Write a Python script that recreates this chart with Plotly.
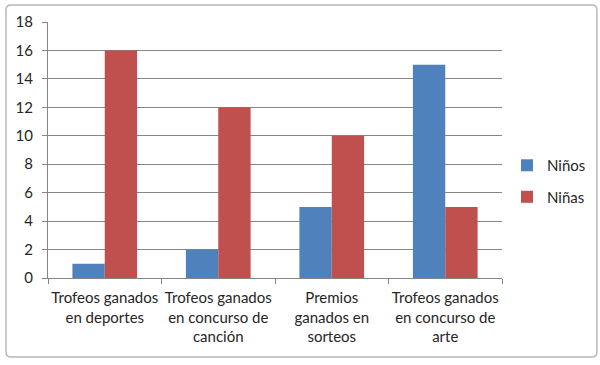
import plotly.graph_objects as go

categories = ["Trofeos ganados<br>en deportes", "Trofeos ganados<br>en concurso de<br>canción",
              "Premios<br>ganados en<br>sorteos", "Trofeos ganados<br>en concurso de<br>arte"]
ninos = [1, 2, 5, 15]
ninas = [16, 12, 10, 5]
y_ticks = [0, 2, 4, 6, 8, 10, 12, 14, 16, 18]

FONT = "Lato, Open Sans, Liberation Sans, sans-serif"

fig = go.Figure()
fig.add_bar(name="Niños", x=categories, y=ninos, legendgroup="a",
            marker=dict(color="#4F81BD", line_width=0))
fig.add_bar(name="Niñas", x=categories, y=ninas, legendgroup="b",
            marker=dict(color="#C0504D", line_width=0))

# rounded chart frame (paper coords)
x0, x1, y0, y1 = -0.0925, 1.209, -0.309, 1.066
rx, ry = 0.011, 0.0195
frame = (f"M {x0+rx},{y1} L {x1-rx},{y1} Q {x1},{y1} {x1},{y1-ry} "
         f"L {x1},{y0+ry} Q {x1},{y0} {x1-rx},{y0} "
         f"L {x0+rx},{y0} Q {x0},{y0} {x0},{y0+ry} "
         f"L {x0},{y1-ry} Q {x0},{y1} {x0+rx},{y1} Z")

fig.update_layout(
    width=600, height=365,
    margin=dict(l=48, r=98, t=22, b=87),
    paper_bgcolor="white", plot_bgcolor="white",
    barmode="group", bargap=0.43, bargroupgap=0,
    font=dict(family=FONT, size=15, color="#262626"),
    showlegend=True,
    legend=dict(xref="container", yref="container", x=0.845, y=0.504,
                xanchor="left", yanchor="middle",
                font=dict(size=15, color="#262626"), tracegroupgap=9, itemwidth=30,
                bgcolor="rgba(0,0,0,0)"),
    xaxis=dict(showline=True, linecolor="#868686", linewidth=1, automargin=False,
               ticks="outside", tickson="boundaries", ticklen=5, tickcolor="#868686",
               ticklabelstandoff=6,
               tickangle=0, showgrid=False, tickfont=dict(size=15, color="#262626")),
    yaxis=dict(range=[0, 18], tickvals=y_ticks, showline=True, linecolor="#868686", linewidth=1,
               automargin=False, ticks="outside", ticklen=5, tickcolor="#868686",
               ticklabelstandoff=6,
               showgrid=True, gridcolor="#868686", gridwidth=1, zeroline=False,
               tickfont=dict(size=15, color="#262626")),
    shapes=[dict(type="path", xref="paper", yref="paper", path=frame,
                 line=dict(color="#B8B8B8", width=1.5), layer="below")],
)

fig.write_html("out.html", config={"displayModeBar": False},
               post_script="document.body.style.margin='0px';document.body.style.padding='0px';")
